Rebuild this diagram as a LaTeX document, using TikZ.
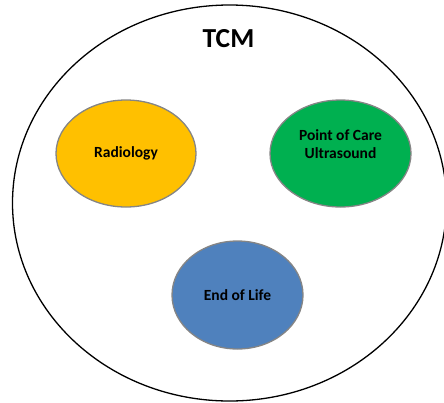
\documentclass[tikz,border=0pt]{standalone}
\usepackage{fontspec}
\setmainfont{Carlito}
\usetikzlibrary{shapes.geometric}
\definecolor{radY}{HTML}{FFC000}
\definecolor{pocG}{HTML}{00B050}
\definecolor{eolB}{HTML}{4F81BD}
\definecolor{rimG}{HTML}{858585}
\tikzset{
  blob/.style={ellipse, draw=rimG, line width=1.3pt, inner sep=0pt, align=center,
    font=\fontsize{15.5}{18}\selectfont\bfseries, text=black},
  blobtext/.style={inner sep=0pt, align=center,
    font=\fontsize{15.5}{18}\selectfont\bfseries, text=black},
  outerring/.style={ellipse, draw=black, line width=1.3pt, inner sep=0pt}
}
\begin{document}
\begin{tikzpicture}[x=1pt,y=-1pt]
\useasboundingbox (0,0) rectangle (444,402);
\node[outerring, minimum width=434pt, minimum height=396pt] (tcmring) at (229.5,203) {};
\node[font=\fontsize{27.5}{29}\selectfont\bfseries] (tcm) at (228.5,39) {TCM};
\node[blob, fill=radY, minimum width=140pt, minimum height=107pt] (rad) at (126,153.5) {Radiology};
\node[blob, fill=pocG, minimum width=141pt, minimum height=107pt] (poc) at (340.5,153.5) {};
\node[blobtext] (poctext) at (340.5,144.5) {Point of Care\\Ultrasound};
\node[blob, fill=eolB, minimum width=131pt, minimum height=108pt] (eol) at (237.5,295) {End of Life};
\end{tikzpicture}
\end{document}
